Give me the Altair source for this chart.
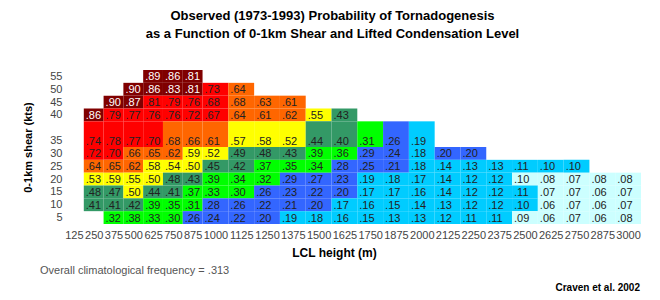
import json
import altair as alt
import pandas as pd

# ---------------- data ----------------
lcl_labels = ["125", "250", "375", "500", "625", "750", "875", "1000", "1125", "1250",
              "1375", "1500", "1625", "1750", "1875", "2000", "2125", "2250", "2375",
              "2500", "2625", "2750", "2875", "3000"]
shear_rows = [55, 50, 45, 40, 35, 30, 25, 20, 15, 10, 5]
N = None

p55 = [N, N, N, N, .89, .86, .81] + [N] * 17
p50 = [N, N, N, .90, .86, .83, .81, .73, .64] + [N] * 15
p45 = [N, N, .90, .87, .81, .79, .76, .68, .68, .63, .61] + [N] * 13
p40 = [N, .86, .79, .77, .76, .76, .72, .67, .64, .61, .62, .55, .43] + [N] * 11
p35 = [N, .74, .78, .77, .70, .68, .66, .61, .57, .58, .52, .44, .40, .31, .26, .19] + [N] * 8
p30 = [N, .72, .70, .66, .65, .62, .59, .52, .49, .48, .43, .39, .36, .29, .24, .18, .20, .20] + [N] * 6
p25 = [N, .64, .65, .62, .58, .54, .50, .45, .42, .37, .35, .34, .28, .25, .21, .18, .14, .13, .13, .11, .10, .10, N, N]
p20 = [N, .53, .59, .55, .50, .48, .43, .39, .34, .32, .29, .27, .23, .19, .18, .17, .14, .12, .12, .10, .08, .07, .08, .08]
p15 = [N, .48, .47, .50, .44, .41, .37, .33, .30, .26, .23, .22, .20, .17, .17, .16, .14, .12, .12, .11, .07, .07, .06, .07]
p10 = [N, .41, .41, .42, .39, .35, .31, .28, .26, .22, .21, .20, .17, .16, .15, .14, .13, .12, .12, .10, .06, .07, .06, .07]
p05 = [N, N, .32, .38, .33, .30, .26, .24, .22, .20, .19, .18, .16, .15, .13, .13, .12, .11, .11, .09, .06, .07, .06, .08]

# colour class of every cell (K dark red, R red, O orange, Y yellow, D dark green,
# G green, B blue, C cyan, L light cyan, - empty)
c55 = "----KKK-----------------"
c50 = "---KKKKRO---------------"
c45 = "--KKRRRROOO-------------"
c40 = "-KRRRRRROOOYD-----------"
c35 = "-RRRROOOYYYDDGBC--------"
c30 = "-RROOOYYDDDGGBBCBB------"
c25 = "-OOOYYYDDGGGBBBCCCCCCC--"
c20 = "-YYYYDDGGGBBBCCCCCCLLLLL"
c15 = "-DDYDDGGGBBBBCCCCCCCLLLL"
c10 = "-DDDGGGBBBBBCCCCCCCCLLLL"
c05 = "--GGGGBBBBCCCCCCCCCLLLLL"

class_names = ["K", "R", "O", "Y", "D", "G", "B", "C", "L"]
class_colors = ["#800000", "#FF0000", "#FF6600", "#FFFF00", "#339966",
                "#00FF00", "#3366FF", "#00CCFF", "#CCFFFF"]

footnote = "Overall climatological frequency = .313"
credit = "Craven et al. 2002"
title_lines = ["Observed (1973-1993) Probability of Tornadogenesis",
               "as a Function of 0-1km Shear and Lifted Condensation Level"]

# ---------------- table layout (column width follows label length) ----------------
values = [p55, p50, p45, p40, p35, p30, p25, p20, p15, p10, p05]
classes = [c55, c50, c45, c40, c35, c30, c25, c20, c15, c10, c05]

widths = [len(s) + 0.3 for s in lcl_labels]
edges = [0.0]
for w in widths:
    edges.append(round(edges[-1] + w, 4))
centers = [round((edges[i] + edges[i + 1]) / 2, 4) for i in range(len(lcl_labels))]


def row_index(s):
    return s // 5 - 1 if s <= 35 else s // 5


records = []
for s, vals, cls in zip(shear_rows, values, classes):
    r = row_index(s)
    lo, hi = r - 0.5, r + 0.5
    if s == 35:  # the 35 kt row spans two rows in the table
        lo, hi = r - 0.5, r + 1.5
    for i, v in enumerate(vals):
        if v is None:
            continue
        records.append({
            "x0": edges[i], "x1": edges[i + 1], "y0": lo, "y1": hi, "ty": r,
            "lbl": f"{v:.2f}"[1:], "cls": cls[i], "shear": s, "lcl": lcl_labels[i],
        })
df = pd.DataFrame(records)

y_vals = [row_index(s) for s in sorted(shear_rows)]
y_lab = [""] * 12
for s in shear_rows:
    y_lab[row_index(s)] = str(s)

FONT = "Liberation Sans"
W, H = 577, 154

x_scale = alt.Scale(domain=[0, edges[-1]], nice=False, zero=False)
y_scale = alt.Scale(domain=[-0.5, 11.5], nice=False, zero=False)

x_axis = alt.Axis(
    values=centers, labelExpr=f"{json.dumps(lcl_labels)}[indexof({json.dumps(centers)}, datum.value)]",
    grid=False, domain=False, ticks=False, labelPadding=5, labelFontSize=11, labelFont=FONT,
    labelColor="#444444", labelOverlap=False, labelFlush=False, labelBound=False,
    labelSeparation=0,
    title="LCL height (m)", titleFont=FONT, titleFontSize=12, titleFontWeight="bold",
    titleColor="#000000", titleX=270, titleY=28, titleBaseline="middle",
)
y_axis = alt.Axis(
    values=y_vals, labelExpr=f"{json.dumps(y_lab)}[datum.value]",
    grid=False, domain=False, ticks=False, labelPadding=2, labelFontSize=11, labelFont=FONT,
    labelColor="#444444", labelOverlap=False, labelFlush=False, labelBound=False,
    labelSeparation=0,
    title="0-1km shear (kts)", titleFont=FONT, titleFontSize=11, titleFontWeight="bold",
    titleColor="#000000", titleAngle=-90, titleX=-36, titleY=77, titleBaseline="middle",
    titleAlign="center",
)

cells = alt.Chart(df).mark_rect(strokeWidth=0).encode(
    x=alt.X("x0:Q", scale=x_scale, axis=x_axis),
    x2="x1:Q",
    y=alt.Y("y0:Q", scale=y_scale, axis=y_axis),
    y2="y1:Q",
    color=alt.Color("cls:N", scale=alt.Scale(domain=class_names, range=class_colors), legend=None),
    tooltip=["shear:O", "lcl:N", "lbl:N"],
)

texts = alt.Chart(df).mark_text(align="left", baseline="middle", dx=2, dy=1,
                                font=FONT, fontSize=11).encode(
    x=alt.X("x0:Q", scale=x_scale, axis=x_axis),
    y=alt.Y("ty:Q", scale=y_scale, axis=y_axis),
    text="lbl:N",
    color=alt.condition(alt.datum.cls == "K", alt.value("#ffffff"), alt.value("#222222")),
)

foot = alt.Chart(pd.DataFrame({"t": [footnote]})).mark_text(
    align="left", baseline="middle", font=FONT, fontSize=11, color="#555555").encode(
    text="t:N", x=alt.value(-24), y=alt.value(201))
cred = alt.Chart(pd.DataFrame({"t": [credit]})).mark_text(
    align="right", baseline="middle", font=FONT, fontSize=10, fontWeight="bold",
    color="#000000").encode(text="t:N", x=alt.value(576), y=alt.value(218))

chart = alt.layer(cells, texts, foot, cred).properties(
    width=W, height=H,
    autosize=alt.AutoSizeParams(type="none"),
    padding={"left": 56, "top": 62, "right": 11, "bottom": 68},
    background="#ffffff",
    title=alt.TitleParams(text=title_lines, font=FONT, fontSize=13, fontWeight="bold",
                          color="#000000", anchor="middle", dx=-20, offset=29, lineHeight=18),
).configure_view(stroke=None)

chart.save("out.html", embed_options={"renderer": "svg", "actions": False})
